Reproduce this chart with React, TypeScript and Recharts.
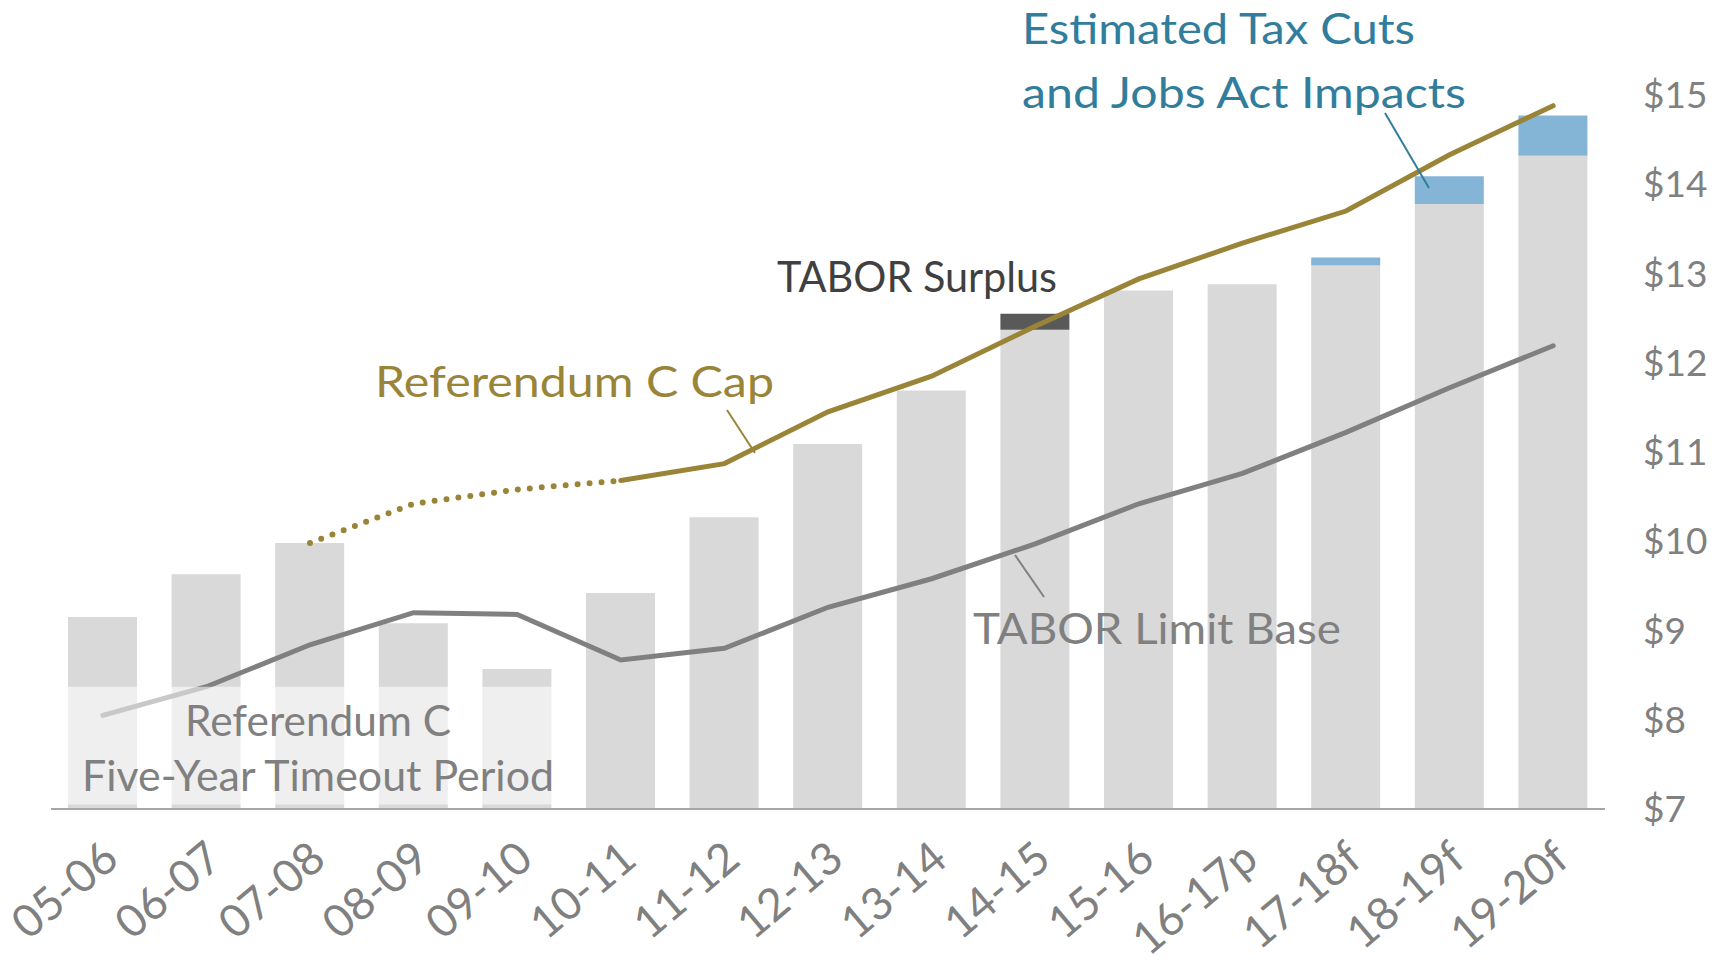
import { ComposedChart, Bar, Line, XAxis, YAxis, ReferenceArea } from 'recharts'

const years = ['05-06', '06-07', '07-08', '08-09', '09-10', '10-11', '11-12', '12-13', '13-14', '14-15', '15-16', '16-17p', '17-18f', '18-19f', '19-20f']
const revenue = [9.15, 9.63, 9.98, 9.08, 8.57, 9.42, 10.27, 11.09, 11.69, 12.37, 12.81, 12.88, 13.09, 13.78, 14.32]
const surplus = [0, 0, 0, 0, 0, 0, 0, 0, 0, 0.18, 0, 0, 0, 0, 0]
const tcja = [0, 0, 0, 0, 0, 0, 0, 0, 0, 0, 0, 0, 0.09, 0.31, 0.45]
const capTimeout = [null, null, 9.98, 10.42, 10.58, 10.68, null, null, null, null, null, null, null, null, null]
const capActive = [null, null, null, null, null, 10.68, 10.87, 11.45, 11.85, 12.41, 12.94, 13.34, 13.7, 14.33, 14.88]
const limitBase = [8.05, 8.37, 8.84, 9.2, 9.18, 8.67, 8.8, 9.26, 9.58, 9.97, 10.42, 10.76, 11.22, 11.72, 12.19]
const yTicks = [7, 8, 9, 10, 11, 12, 13, 14, 15]

const data = years.map((year, i) => ({
  year,
  revenue: revenue[i],
  surplus: surplus[i],
  tcja: tcja[i],
  capTimeout: capTimeout[i],
  capActive: capActive[i],
  limitBase: limitBase[i],
}))

const FONT = 'Lato, "Noto Sans", sans-serif'
const GOLD = '#9a8438'
const GREY = '#808080'
const BLUE_TXT = '#317d9c'

function YearTick({ x, y, payload }: any) {
  const ax = x + 8
  const ay = y + 42
  return (
    <text
      x={ax}
      y={ay}
      dy="0.35em"
      textAnchor="end"
      transform={`rotate(-40 ${ax} ${ay})`}
      fill={GREY}
      fontSize={45}
      fontFamily={FONT}
    >
      {payload.value}
    </text>
  )
}

export default function App() {
  return (
    <div style={{ position: 'absolute', left: 0, top: 0, width: 1727, height: 963, background: '#fff' }}>
      <ComposedChart
        width={1727}
        height={963}
        data={data}
        margin={{ top: 95, right: 0, bottom: 0, left: 51 }}
        barSize={69}
      >
        <XAxis
          dataKey="year"
          height={154}
          interval={0}
          tickLine={false}
          tickSize={0}
          tickMargin={0}
          axisLine={{ stroke: '#a6a6a6', strokeWidth: 2 }}
          tick={<YearTick />}
        />
        <YAxis
          orientation="right"
          width={122}
          domain={[7, 15]}
          ticks={yTicks}
          allowDataOverflow
          axisLine={false}
          tickLine={false}
          tickSize={0}
          tickMargin={38}
          tick={{ fill: GREY, fontSize: 37, fontFamily: FONT, textAnchor: 'start' }}
          tickFormatter={(v) => `$${v}`}
        />
        <Bar dataKey="revenue" stackId="a" fill="#d9d9d9" isAnimationActive={false} />
        <Bar dataKey="surplus" stackId="a" fill="#595959" isAnimationActive={false} />
        <Bar dataKey="tcja" stackId="a" fill="#84b4d6" isAnimationActive={false} />
        <Line
          dataKey="limitBase"
          stroke={GREY}
          strokeWidth={5}
          strokeLinecap="round"
          dot={false}
          activeDot={false}
          isAnimationActive={false}
        />
        <Line
          dataKey="capTimeout"
          stroke={GOLD}
          strokeWidth={6}
          strokeDasharray="0 12"
          strokeLinecap="round"
          dot={false}
          activeDot={false}
          connectNulls={false}
          isAnimationActive={false}
        />
        <Line
          dataKey="capActive"
          stroke={GOLD}
          strokeWidth={5}
          strokeLinecap="round"
          dot={false}
          activeDot={false}
          connectNulls={false}
          isAnimationActive={false}
        />
        <ReferenceArea
          x1="05-06"
          x2="09-10"
          y1={7.05}
          y2={8.37}
          fill="#ffffff"
          fillOpacity={0.57}
          stroke="none"
          zIndex={450}
          ifOverflow="hidden"
        />
      </ComposedChart>

      <svg
        width={1727}
        height={963}
        style={{ position: 'absolute', left: 0, top: 0, pointerEvents: 'none' }}
        fontFamily={FONT}
        fontSize={42}
      >
        <line x1={1385} y1={113} x2={1429} y2={188} stroke={BLUE_TXT} strokeWidth={2} />
        <line x1={727} y1={410} x2={755} y2={453} stroke={GOLD} strokeWidth={2} />
        <line x1={1015} y1={555} x2={1044} y2={597} stroke={GREY} strokeWidth={2} />

        <text x={1022} y={44} fill={BLUE_TXT} textLength={393} lengthAdjust="spacingAndGlyphs">Estimated Tax Cuts</text>
        <text x={1022} y={108} fill={BLUE_TXT} textLength={444} lengthAdjust="spacingAndGlyphs">and Jobs Act Impacts</text>
        <text x={777} y={292} fill="#404040" textLength={280} lengthAdjust="spacingAndGlyphs">TABOR Surplus</text>
        <text x={375} y={397} fill={GOLD} textLength={399} lengthAdjust="spacingAndGlyphs">Referendum C Cap</text>
        <text x={973} y={644} fill={GREY} textLength={368} lengthAdjust="spacingAndGlyphs">TABOR Limit Base</text>
        <text x={185} y={736} fill={GREY} textLength={266} lengthAdjust="spacingAndGlyphs">Referendum C</text>
        <text x={82} y={791} fill={GREY} textLength={472} lengthAdjust="spacingAndGlyphs">Five-Year Timeout Period</text>
      </svg>
    </div>
  )
}
